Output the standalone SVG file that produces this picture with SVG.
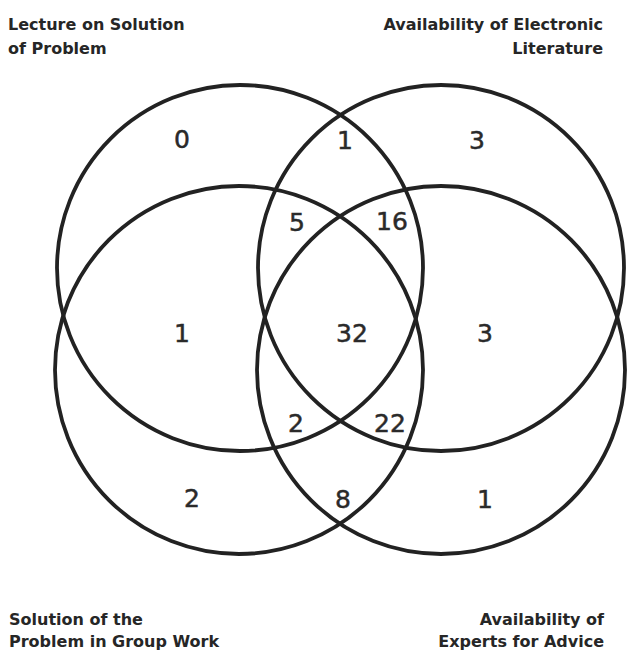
<svg xmlns="http://www.w3.org/2000/svg" width="629" height="652" viewBox="0 0 629 652">
<style>
.set{fill:none;stroke:#222;stroke-width:3.8}
.ttl{font-family:"DejaVu Sans",sans-serif;font-weight:bold;font-size:16px;fill:#262626}
.num{font-family:"DejaVu Sans",sans-serif;font-size:25px;fill:#2a2a2a;stroke:#2a2a2a;stroke-width:0.5;text-anchor:middle}
.r{text-anchor:end}
</style>
<rect width="629" height="652" fill="#fff"/>
<g id="sets">
<circle id="lecture" class="set" cx="240" cy="268" r="183"/>
<circle id="electronic" class="set" cx="441" cy="268" r="183"/>
<circle id="groupwork" class="set" cx="239" cy="370" r="184"/>
<circle id="experts" class="set" cx="441" cy="370" r="184"/>
</g>
<g id="titles">
<text class="ttl" x="8" y="30">Lecture on Solution</text>
<text class="ttl" x="8" y="54">of Problem</text>
<text class="ttl r" x="603" y="30">Availability of Electronic</text>
<text class="ttl r" x="603" y="54">Literature</text>
<text class="ttl" x="9" y="625">Solution of the</text>
<text class="ttl" x="9" y="647">Problem in Group Work</text>
<text class="ttl r" x="604" y="625">Availability of</text>
<text class="ttl r" x="604" y="647">Experts for Advice</text>
</g>
<g id="counts">
<text class="num" x="182" y="148">0</text>
<text class="num" x="345" y="149">1</text>
<text class="num" x="477" y="149">3</text>
<text class="num" x="297" y="230.5">5</text>
<text class="num" x="392" y="230">16</text>
<text class="num" x="182" y="341.5">1</text>
<text class="num" x="352" y="342">32</text>
<text class="num" x="485" y="341.5">3</text>
<text class="num" x="296" y="431.5">2</text>
<text class="num" x="390" y="431.5">22</text>
<text class="num" x="192" y="507">2</text>
<text class="num" x="343" y="508">8</text>
<text class="num" x="485" y="508">1</text>
</g>
</svg>
